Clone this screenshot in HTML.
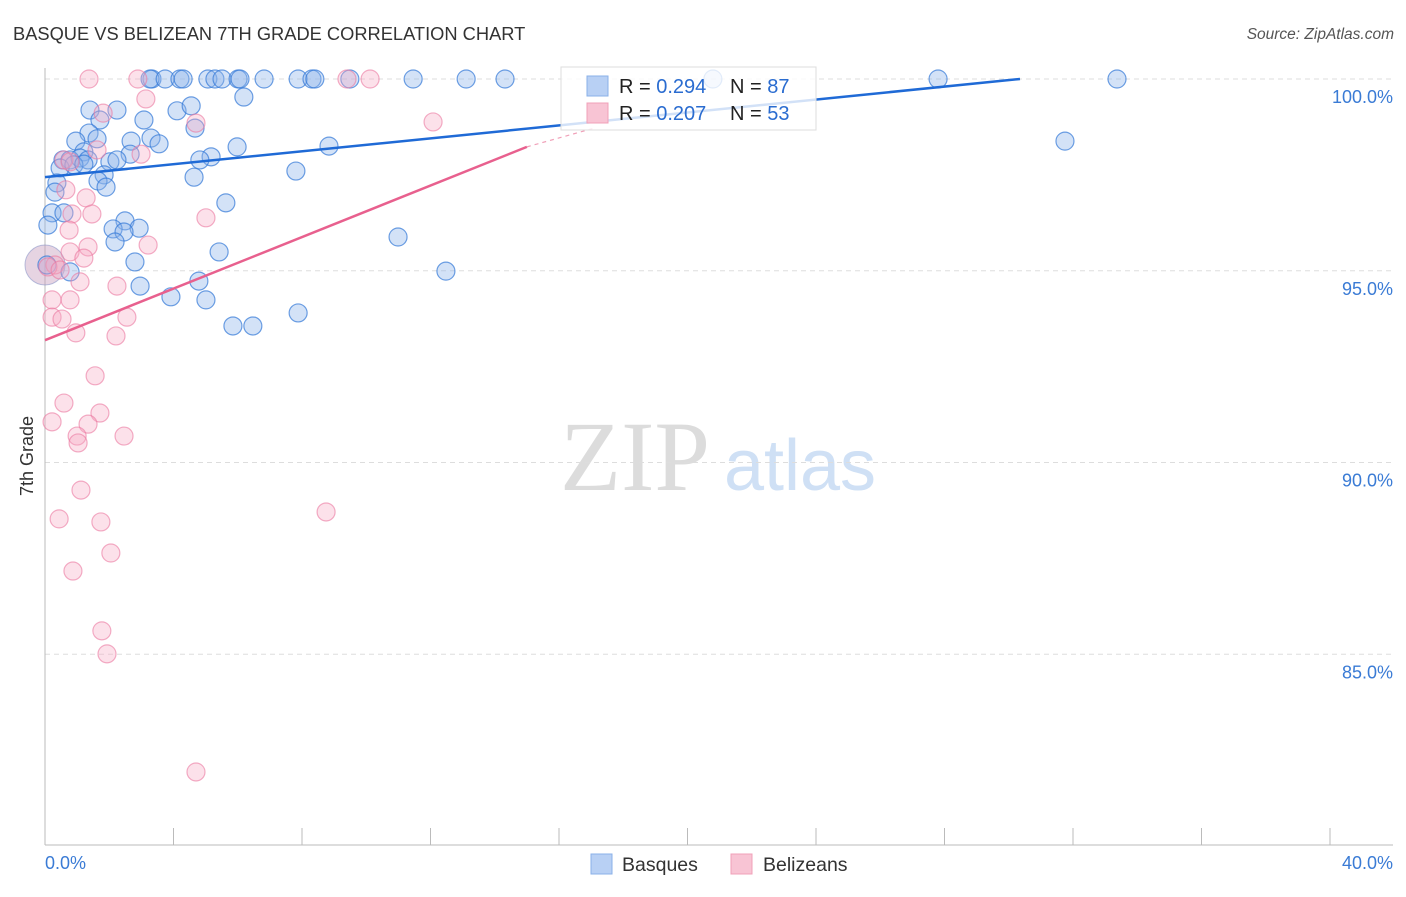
<!DOCTYPE html>
<html><head><meta charset="utf-8"><style>
body{margin:0;background:#fff;width:1406px;height:892px;overflow:hidden;font-family:"Liberation Sans",sans-serif}
</style></head><body>
<svg id="chart" width="1406" height="892" xmlns="http://www.w3.org/2000/svg" style="font-family:'Liberation Sans',sans-serif">
<text x="13" y="40" font-size="18.3" fill="#333">BASQUE VS BELIZEAN 7TH GRADE CORRELATION CHART</text>
<text x="1394" y="39" font-size="15.5" fill="#555" text-anchor="end" font-style="italic">Source: ZipAtlas.com</text>
<text transform="translate(33,456) rotate(-90)" font-size="18" fill="#333" text-anchor="middle">7th Grade</text>
<g>
<text x="635" y="490" font-size="100" fill="#dcdcdc" font-family="'Liberation Serif',serif" text-anchor="middle">ZIP</text>
<text x="800" y="490" font-size="72" fill="#cfe0f5" text-anchor="middle">atlas</text>
</g>
<g id="grid"></g>
<g id="axes"></g>
<g id="marks"></g>
<g id="lines"></g>
<g>
<rect x="561" y="67" width="255" height="63" fill="rgba(255,255,255,0.8)" stroke="#ddd"/>
<rect x="587" y="76" width="21" height="20" fill="#b8d0f4" stroke="#8ab0e8"/>
<rect x="587" y="103" width="21" height="20" fill="#f8c4d4" stroke="#f0a0b8"/>
<text x="619" y="93" font-size="20" fill="#222">R = <tspan fill="#2a6cd0">0.294</tspan></text>
<text x="730" y="93" font-size="20" fill="#222">N = <tspan fill="#2a6cd0">87</tspan></text>
<text x="619" y="120" font-size="20" fill="#222">R = <tspan fill="#2a6cd0">0.207</tspan></text>
<text x="730" y="120" font-size="20" fill="#222">N = <tspan fill="#2a6cd0">53</tspan></text>
</g>
<g>
<rect x="591" y="854" width="21" height="20" fill="#b8d0f4" stroke="#8ab0e8"/>
<text x="622" y="871" font-size="19.5" fill="#333">Basques</text>
<rect x="731" y="854" width="21" height="20" fill="#f8c4d4" stroke="#f0a0b8"/>
<text x="763" y="871" font-size="19.5" fill="#333">Belizeans</text>
</g>
</svg>
<script>
const yTicks=[100,95,90,85];
const yTickLabels=["100.0%","95.0%","90.0%","85.0%"];
const xTicks=[0,4,8,12,16,20,24,28,32,36,40];
const xEndLabels=["0.0%","40.0%"];
const basqueX=[3.33,3.27,3.74,4.20,4.30,5.07,5.29,5.51,6.01,6.07,6.82,7.88,8.31,8.40,9.49,11.46,13.11,14.32,20.79,27.80,33.37,6.19,1.40,2.24,4.11,4.55,3.08,1.71,4.67,1.37,0.96,2.68,3.30,3.55,1.62,5.98,8.84,31.75,1.21,2.65,5.17,4.82,0.56,0.78,1.09,1.34,2.02,2.24,0.47,0.90,1.21,7.81,1.84,1.65,4.64,1.90,0.37,0.31,5.63,0.22,0.59,2.49,2.12,2.93,2.46,2.18,0.09,10.99,5.42,2.80,0.06,0.78,12.48,2.96,4.79,3.92,5.01,7.88,5.85,6.47];
const basqueY=[100,100,100,100,100,100,100,100,100,100,100,100,100,100,100,100,100,100,100,100,100,99.53,99.19,99.19,99.17,99.30,98.93,98.93,98.72,98.59,98.38,98.38,98.46,98.31,98.44,98.23,98.25,98.38,98.10,98.04,97.97,97.89,97.89,97.89,97.94,97.89,97.84,97.89,97.68,97.76,97.78,97.60,97.50,97.34,97.44,97.18,97.29,97.05,96.77,96.51,96.51,96.30,96.09,96.11,96.01,95.75,96.19,95.88,95.49,95.23,95.15,94.97,94.99,94.60,94.73,94.32,94.24,93.90,93.56,93.56];
const belizeX=[1.37,2.89,9.40,10.12,3.14,1.81,4.70,12.08,1.62,2.99,0.59,0.78,0.65,1.28,1.46,0.84,0.75,3.21,1.34,0.78,1.21,5.01,0.31,0.09,0.47,1.09,2.24,0.22,0.78,0.22,0.53,2.55,0.96,2.21,1.56,0.59,1.71,0.22,1.34,1.00,2.46,1.03,1.12,0.44,1.74,2.05,0.87,1.77,1.93,8.75,4.70];
const belizeY=[100,100,100,100,99.48,99.11,98.85,98.88,98.15,98.04,97.89,97.84,97.11,96.90,96.48,96.48,96.06,95.67,95.62,95.49,95.33,96.38,95.15,95.10,95.02,94.71,94.60,94.24,94.24,93.79,93.74,93.79,93.38,93.30,92.26,91.55,91.29,91.06,91.00,90.69,90.69,90.51,89.28,88.53,88.45,87.64,87.17,85.61,85.01,88.71,81.93];
const basqueTrendX=[0,30.35];
const basqueTrendY=[97.44,100];
const belizeTrendX=[0,15.0];
const belizeTrendY=[93.19,98.23];
const belizeTrendDashEnd=[17.1,98.72];

const NS="http://www.w3.org/2000/svg";
const xs=v=>45+v*32.125;
const ys=v=>79+(100-v)*38.35;
function mk(tag,attrs,parent){const e=document.createElementNS(NS,tag);for(const k in attrs)e.setAttribute(k,attrs[k]);document.getElementById(parent).appendChild(e);return e;}

yTicks.forEach((t,i)=>{
  const g=mk('line',{x1:45,x2:1393,y1:ys(t),y2:ys(t),stroke:'#ddd','stroke-dasharray':'5,4'},'grid');
  
  
  const l=mk('text',{x:1393,y:ys(t)+24,'font-size':18,fill:'#3a7bd5','text-anchor':'end'},'axes');
  l.textContent=yTickLabels[i];
  
  
});
const ax=mk('line',{x1:45,x2:45,y1:68,y2:845,stroke:'#bbb'},'axes');


const bx=mk('line',{x1:45,x2:1393,y1:845,y2:845,stroke:'#bbb'},'axes');


xTicks.forEach(t=>{
  const e=mk('line',{x1:xs(t),x2:xs(t),y1:828,y2:845,stroke:'#bbb'},'axes');
  
  
});
const xl0=mk('text',{x:45,y:869,'font-size':18,fill:'#3a7bd5'},'axes');
xl0.textContent=xEndLabels[0];


const xl1=mk('text',{x:1393,y:869,'font-size':18,fill:'#3a7bd5','text-anchor':'end'},'axes');
xl1.textContent=xEndLabels[1];



const big=mk('circle',{cx:xs(0),cy:ys(95.15),r:20,fill:'rgba(200,160,190,0.45)',stroke:'rgba(140,150,200,0.6)'},'marks');


basqueX.forEach((x,i)=>{
  const c=mk('circle',{cx:xs(x),cy:ys(basqueY[i]),r:9,fill:'rgba(140,180,235,0.38)',stroke:'rgba(50,120,215,0.7)','stroke-width':1.2},'marks');
  
  
});
belizeX.forEach((x,i)=>{
  const c=mk('circle',{cx:xs(x),cy:ys(belizeY[i]),r:9,fill:'rgba(245,170,195,0.35)',stroke:'rgba(235,120,160,0.6)','stroke-width':1.2},'marks');
  
  
});
const bl=mk('line',{x1:xs(basqueTrendX[0]),y1:ys(basqueTrendY[0]),x2:xs(basqueTrendX[1]),y2:ys(basqueTrendY[1]),stroke:'#1f6ad6','stroke-width':2.5},'lines');


const pl=mk('line',{x1:xs(belizeTrendX[0]),y1:ys(belizeTrendY[0]),x2:xs(belizeTrendX[1]),y2:ys(belizeTrendY[1]),stroke:'#e8608e','stroke-width':2.5},'lines');


const pd=mk('line',{x1:xs(belizeTrendX[1]),y1:ys(belizeTrendY[1]),x2:xs(belizeTrendDashEnd[0]),y2:ys(belizeTrendDashEnd[1]),stroke:'#f0a0b8','stroke-width':1.2,'stroke-dasharray':'4,4'},'lines');


</script>
</body></html>
